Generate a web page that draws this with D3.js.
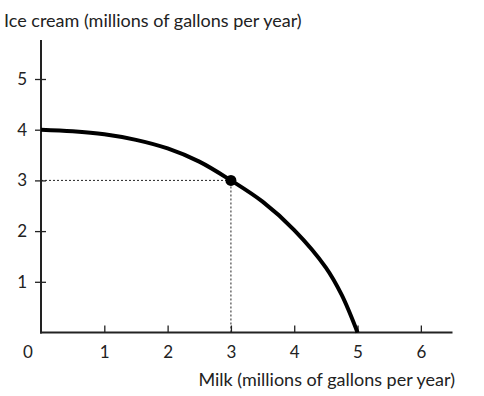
<html>
<head>
<style>
    body { margin: 0; background: #fff; }
    text { font-family: Lato, "Open Sans", sans-serif; fill: #222; }
</style>
</head>
<body>
<svg id="chart" width="484" height="396"></svg>
<script src="https://cdn.jsdelivr.net/npm/d3@7"></script>
<script>
    // production possibilities frontier
    let milk = [0, 0.5, 1, 1.5, 2, 2.5, 3, 3.5, 4, 4.5, 4.75, 5]
    let iceCream = [4, 3.97, 3.91, 3.8, 3.63, 3.37, 3.0, 2.58, 2.02, 1.28, 0.74, 0]
    let xTicks = [1, 2, 3, 4, 5, 6]
    let yTicks = [1, 2, 3, 4, 5]
    let point = {milk: 3, iceCream: 3}
    let xTitle = "Milk (millions of gallons per year)"
    let yTitle = "Ice cream (millions of gallons per year)"

    let svg = d3.select("#chart")

    let xScale = d3.scaleLinear().domain([0, 6.5]).range([41, 452.5])
    let yScale = d3.scaleLinear().domain([0, 5]).range([332.5, 79])

    // axis lines
    svg.append("line")
        .attr("x1", xScale(0)).attr("x2", xScale(0))
        .attr("y1", yScale(5.77)).attr("y2", yScale(0) + 1)
        .attr("stroke", "#222").attr("stroke-width", 2)
    svg.append("line")
        .attr("x1", xScale(0) - 1).attr("x2", xScale(6.5))
        .attr("y1", yScale(0)).attr("y2", yScale(0))
        .attr("stroke", "#222").attr("stroke-width", 2)

    let yAxis = svg.append("g")
        .attr("transform", "translate(" + xScale(0) + ",0)")
        .call(d3.axisLeft(yScale).tickValues(yTicks).tickFormat(d3.format("d"))
            .tickSizeInner(6).tickSizeOuter(0).tickPadding(8))
    yAxis.select(".domain").remove()
    yAxis.selectAll(".tick line").attr("x1", 5).attr("stroke", "#222").attr("stroke-width", 1.3)
    yAxis.selectAll("text").attr("font-size", 17).attr("font-family", null).attr("fill", null)

    let xAxis = svg.append("g")
        .attr("transform", "translate(0," + yScale(0) + ")")
        .call(d3.axisBottom(xScale).tickValues(xTicks).tickFormat(d3.format("d"))
            .tickSizeInner(-7).tickSizeOuter(0).tickPadding(13))
    xAxis.select(".domain").remove()
    xAxis.selectAll(".tick line").attr("stroke", "#222").attr("stroke-width", 1.3)
    xAxis.selectAll("text").attr("font-size", 17).attr("font-family", null).attr("fill", null)

    svg.append("text")
        .attr("x", 28).attr("y", 358)
        .attr("text-anchor", "middle")
        .attr("font-size", 17)
        .text("0")

    // dotted guides
    svg.append("path")
        .attr("d", d3.line()([[xScale(0), yScale(point.iceCream)], [xScale(point.milk), yScale(point.iceCream)], [xScale(point.milk), yScale(0)]]))
        .attr("fill", "none")
        .attr("stroke", "#222")
        .attr("stroke-width", 1)
        .attr("stroke-dasharray", "2,2")

    let curve = d3.line()
        .x((d, i) => xScale(milk[i]))
        .y(d => yScale(d))
        .curve(d3.curveCatmullRom.alpha(0.5))

    svg.append("path")
        .datum(iceCream)
        .attr("d", curve)
        .attr("fill", "none")
        .attr("stroke", "#000")
        .attr("stroke-width", 4)

    svg.append("circle")
        .attr("cx", xScale(point.milk))
        .attr("cy", yScale(point.iceCream))
        .attr("r", 5.5)
        .attr("fill", "#000")

    svg.append("text")
        .attr("x", 4).attr("y", 27)
        .attr("font-size", 18)
        .text(yTitle)

    svg.append("text")
        .attr("x", 455).attr("y", 386)
        .attr("text-anchor", "end")
        .attr("font-size", 18)
        .text(xTitle)
</script>
</body>
</html>
